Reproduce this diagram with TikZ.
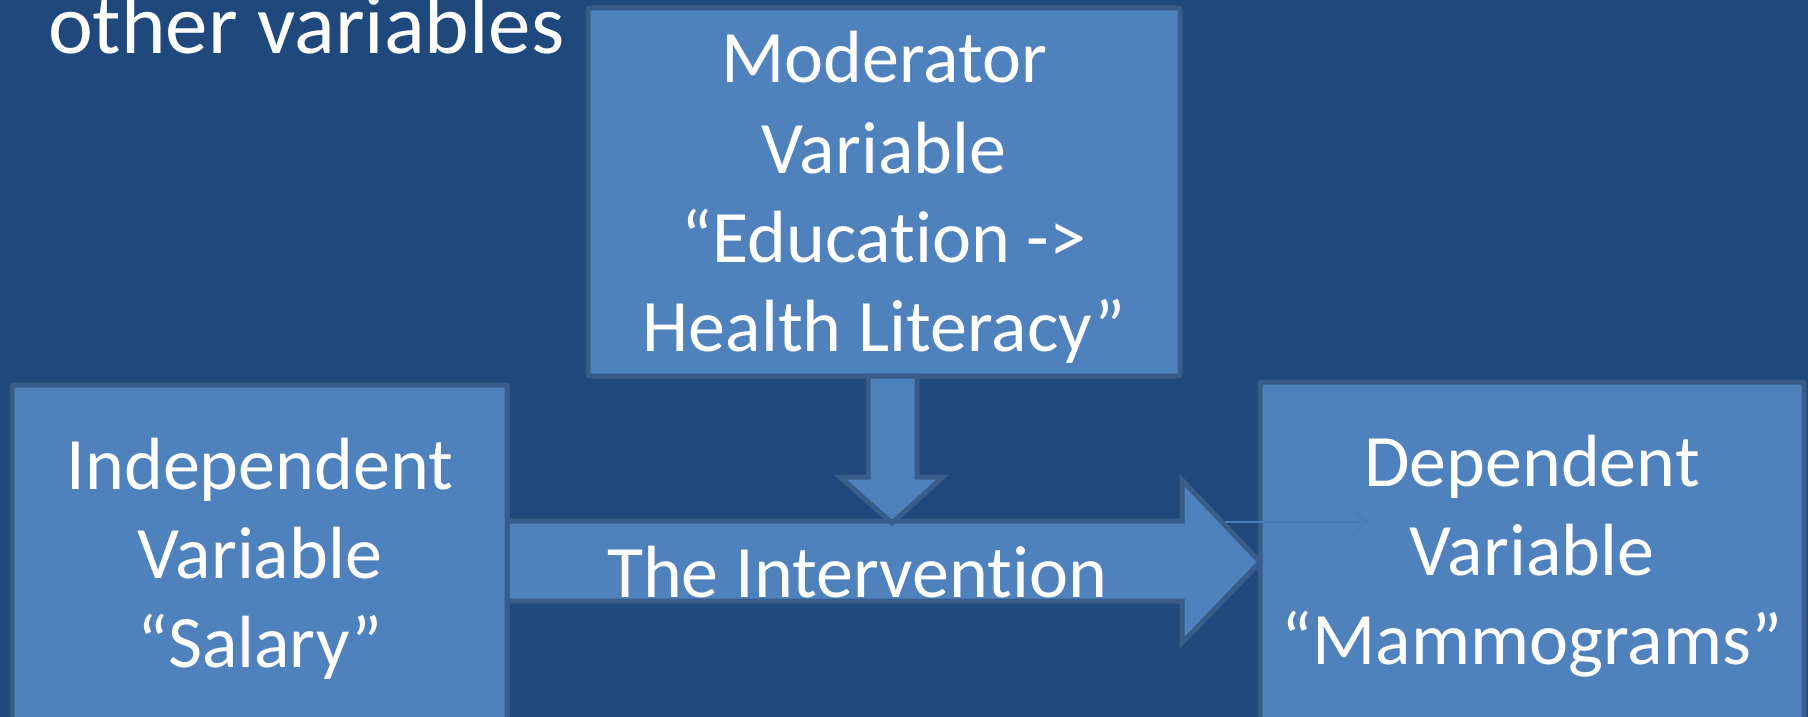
\documentclass[tikz,border=0pt]{standalone}
\usepackage{fontspec}
\setmainfont{Carlito}[RawFeature={-liga;-calt;-dlig}]
\usetikzlibrary{arrows.meta}
\definecolor{bgblue}{HTML}{1F497D}
\definecolor{boxfill}{HTML}{4F81BD}
\definecolor{boxline}{HTML}{385D8A}
\definecolor{thinline}{HTML}{4A7EBB}
\tikzset{
  box/.style={draw=boxline, fill=boxfill, line width=5pt, rectangle, rounded corners=2pt, inner sep=0pt, outer sep=0pt, anchor=north west},
  blockarrow/.style={draw=boxline, fill=boxfill, line width=5pt, line join=miter},
  txt/.style={text=white, inner sep=0pt, outer sep=0pt, anchor=base, font=\fontsize{74}{89}\selectfont},
  bigtxt/.style={text=white, inner sep=0pt, outer sep=0pt, anchor=base west, font=\fontsize{85}{102}\selectfont},
}
\begin{document}
\begin{tikzpicture}[x=1pt,y=-1pt]
\useasboundingbox (0,0) rectangle (1808,717);
\clip (0,0) rectangle (1808,717);
\fill[bgblue] (0,0) rectangle (1808,717);
% title fragment
\node[bigtxt] (title) at (48,54) {other variables};
% boxes
\node[box, minimum width=592pt, minimum height=368pt] (mod) at (588,8) {};
\node[box, minimum width=495pt, minimum height=360pt] (ind) at (12,385) {};
\node[box, minimum width=544pt, minimum height=360pt] (dep) at (1260,382) {};
% horizontal block arrow
\draw[blockarrow] (ind.east |- 0,521) -- (1182,521) -- (1182,480) -- (dep.west |- 0,562) -- (1182,643) -- (1182,601) -- (ind.east |- 0,601);
% down block arrow
\draw[blockarrow] (868,376) -- (917,376) -- (917,477) -- (943,477) -- (892,523) -- (840,477) -- (868,477) -- cycle;
% redraw box edge on top
\draw[boxline, line width=5pt] (ind.north east) -- (ind.east |- 0,717);
% thin arrow
\coordinate (ts) at (1225,522);
\coordinate (te) at (1368,522);
\draw[thinline, line width=2pt, -{Straight Barb[length=13pt,width=24pt,line width=2pt]}] (ts) -- (te);
% texts
\node[txt] (m1) at (884,83) {Moderator};
\node[txt] (m2) at (884,173) {Variable};
\node[txt] (m3) at (884,262) {“Educat\kern0pt ion ->};
\node[txt] (m4) at (884,351) {Health Literacy”};
\node[txt] (i1) at (260,489) {Independent};
\node[txt] (i2) at (260,578) {Variable};
\node[txt] (i3) at (260,667) {“Salary”};
\node[txt] (d1) at (1532,486) {Dependent};
\node[txt] (d2) at (1532,575) {Variable};
\node[txt] (d3) at (1532,664) {“Mammograms”};
\node[txt] (iv) at (857,597) {The Intervent\kern0pt ion};
\end{tikzpicture}
\end{document}
